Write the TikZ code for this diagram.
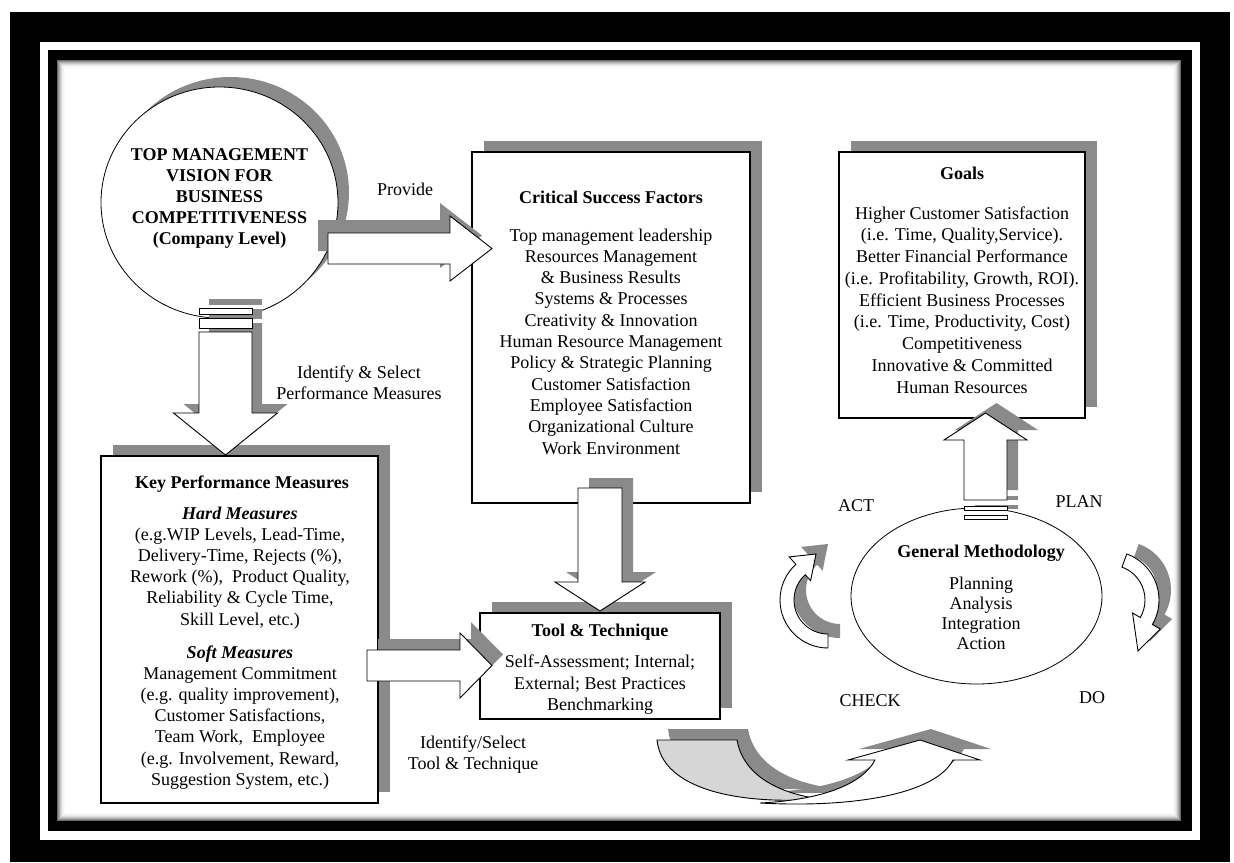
\documentclass[tikz,border=0pt]{standalone}
\usepackage{fontspec}
\setmainfont{Liberation Serif}
\usetikzlibrary{shapes.geometric}
\definecolor{shade}{RGB}{138,138,138}
\definecolor{backband}{RGB}{214,214,214}
% right-pointing block arrow: style, tail x, head-base x, tip x, centre y
\newcommand\rightblock[5]{%
  \path[#1] (#2,#5-15.5) -- (#3,#5-15.5) -- (#3,#5-32.5) -- (#4,#5)
    -- (#3,#5+32.5) -- (#3,#5+15.5) -- (#2,#5+15.5) -- cycle;}
\begin{document}
\begin{tikzpicture}[x=1pt, y=-1pt,
  every node/.style={inner sep=0pt, outer sep=0pt},
  txt/.style={align=center, anchor=north, font=\fontsize{18}{#1}\selectfont},
  txt/.default=21.3,
  txtb/.style={align=center, anchor=north, font=\fontsize{18}{#1}\selectfont\bfseries},
  txtb/.default=21.3,
  lbl/.style={anchor=base, font=\fontsize{18}{21.3}\selectfont},
  hd/.style={anchor=base, font=\fontsize{18}{21.3}\selectfont\bfseries},
  shadowfill/.style={fill=shade, draw=none},
  boxstyle/.style={draw=black, fill=white, line width=1.6pt, anchor=north west},
  roundstyle/.style={draw=black, fill=white, ellipse, line width=0.8pt},
  blockfill/.style={draw=black, fill=white, line width=0.9pt, line join=miter},
  backfill/.style={draw=black, fill=backband, line width=0.9pt},
]
\useasboundingbox (0,0) rectangle (1234,862);

% ---------- frame ----------
\fill[white] (0,0) rectangle (1234,862);
\fill[black] (10,12) rectangle (1230,862);
\fill[white] (40,42) rectangle (1200,840);
\fill[black] (48,50) rectangle (1192,831);
\fill[white] (57,60) rectangle (1181,821);
\foreach \k [count=\i] in {58,44,32,22,14,8,4,2}
  \draw[black!\k, line width=1pt] (56.5+\i,59.5+\i) rectangle (1181.5-\i,821.5-\i);

% ---------- shadows of boxes and circle ----------
\fill[shadowfill] (230.5,192.5) ellipse [x radius=118.5, y radius=115.5];
\fill[shadowfill] (484,141) rectangle (762,492);
\fill[shadowfill] (851,141) rectangle (1097,407);
\fill[shadowfill] (113,445) rectangle (390,792);
\fill[shadowfill] (492,602) rectangle (732,708);

% ---------- boxes ----------
\node[roundstyle, minimum width=237pt, minimum height=231pt] (vision) at (219.5,202.5) {};
\node[boxstyle, minimum width=278pt, minimum height=351pt] (csf) at (472,152) {};
\node[boxstyle, minimum width=246pt, minimum height=266pt] (goals) at (839,152) {};
\node[boxstyle, minimum width=277pt, minimum height=347pt] (kpm) at (101,456) {};
\node[boxstyle, minimum width=240pt, minimum height=106pt] (tool) at (480,613) {};
\node[roundstyle, minimum width=251pt, minimum height=176pt] (method) at (976.5,596) {};

% ---------- block arrows ----------
% vision -> critical success factors
\rightblock{shadowfill, shift={(-10,-13)}}{328}{450}{492}{248.5}
\rightblock{blockfill}{328}{450}{492}{248.5}
% key performance measures -> tool & technique
\rightblock{shadowfill, shift={(11,-11)}}{367}{460}{492}{665.5}
\rightblock{blockfill}{367}{460}{492}{665.5}
% critical success factors -> tool & technique
\path[shadowfill, shift={(11,-10)}] (578,488) -- (622,488) -- (622,582) -- (645,582)
  -- (600,611) -- (555,582) -- (578,582) -- cycle;
\path[blockfill] (578,488) -- (622,488) -- (622,582) -- (645,582)
  -- (600,611) -- (555,582) -- (578,582) -- cycle;
% vision -> key performance measures (striped)
\begin{scope}[shift={(10,-9)}]
  \path[shadowfill] (199,332) -- (252,332) -- (252,413) -- (277.5,413)
    -- (225.5,455) -- (173.5,413) -- (199,413) -- cycle;
  \path[shadowfill] (199,308) rectangle (252,314);
  \path[shadowfill] (199,318) rectangle (252,328);
\end{scope}
\path[blockfill] (199,332) -- (252,332) -- (252,413) -- (277.5,413)
  -- (225.5,455) -- (173.5,413) -- (199,413) -- cycle;
\path[blockfill] (199,308) rectangle (252,314);
\path[blockfill] (199,318) rectangle (252,328);
% general methodology -> goals (striped)
\begin{scope}[shift={(11,-10)}]
  \path[shadowfill] (964,500) -- (964,440) -- (944,440) -- (985.5,413)
    -- (1027,440) -- (1007,440) -- (1007,500) -- cycle;
  \path[shadowfill] (964,506) rectangle (1007,510);
  \path[shadowfill] (964,515) rectangle (1007,519);
\end{scope}
\path[blockfill] (964,500) -- (964,440) -- (944,440) -- (985.5,413)
  -- (1027,440) -- (1007,440) -- (1007,500) -- cycle;
\path[blockfill] (964,506) rectangle (1007,510);
\path[blockfill] (964,515) rectangle (1007,519);

% ---------- turning arrows round the cycle ----------
\path[shadowfill, shift={(12,-10)}] ([shift={(828,600)}]90:48)
  arc[start angle=90, end angle=228, radius=48] -- ([shift={(828,600)}]228:58)
  -- (816,554) -- ([shift={(828,600)}]228:26) -- ([shift={(828,600)}]228:34)
  arc[start angle=228, end angle=90, radius=34] -- cycle;
\path[blockfill] ([shift={(828,600)}]90:48)
  arc[start angle=90, end angle=228, radius=48] -- ([shift={(828,600)}]228:58)
  -- (816,554) -- ([shift={(828,600)}]228:26) -- ([shift={(828,600)}]228:34)
  arc[start angle=228, end angle=90, radius=34] -- cycle;
\path[shadowfill, shift={(12,-10)}] ([shift={(1110,600)}]-70:49)
  arc[start angle=-70, end angle=30, radius=49] -- ([shift={(1110,600)}]30:58)
  -- (1138,651) -- ([shift={(1110,600)}]30:26) -- ([shift={(1110,600)}]30:35)
  arc[start angle=30, end angle=-70, radius=35] -- cycle;
\path[blockfill] ([shift={(1110,600)}]-70:49)
  arc[start angle=-70, end angle=30, radius=49] -- ([shift={(1110,600)}]30:58)
  -- (1138,651) -- ([shift={(1110,600)}]30:26) -- ([shift={(1110,600)}]30:35)
  arc[start angle=30, end angle=-70, radius=35] -- cycle;

% curved up arrow under the cycle
\begin{scope}[shift={(11,-11)}]
  \path[shadowfill] (657,740) -- (737,740) .. controls (742,770) and (770,792) .. (820,799)
    .. controls (740,805) and (662,790) .. (657,740) -- cycle;
  \path[shadowfill] (760,803) .. controls (850,808) and (935,795) .. (953,760) -- (980,760)
    -- (920,740) -- (848,760) -- (875,760) .. controls (862,785) and (820,800) .. (760,803) -- cycle;
\end{scope}
\path[backfill] (657,740) -- (737,740) .. controls (742,770) and (770,792) .. (820,799)
  .. controls (740,805) and (662,790) .. (657,740) -- cycle;
\path[blockfill] (760,803) .. controls (850,808) and (935,795) .. (953,760) -- (980,760)
  -- (920,740) -- (848,760) -- (875,760) .. controls (862,785) and (820,800) .. (760,803) -- cycle;

% ---------- texts ----------
\node[txtb=21] (visiontext) at (219.5,145.3)
  {\strut TOP MANAGEMENT\\VISION FOR\\BUSINESS\\COMPETITIVENESS\\(Company Level)};
\node[lbl] (provide) at (405,195) {Provide};
\node[hd] (csftitle) at (611,203) {Critical Success Factors};
\node[txt] (csflist) at (611,226.1)
  {\strut Top management leadership\\Resources Management\\\& Business Results\\
   Systems \& Processes\\Creativity \& Innovation\\Human Resource Management\\
   Policy \& Strategic Planning\\Customer Satisfaction\\Employee Satisfaction\\
   Organizational Culture\\Work Environment};
\node[hd] (goalstitle) at (962,179) {Goals};
\node[txt=21.75] (goalslist) at (962,203.8)
  {\strut Higher Customer Satisfaction\\(i.e. Time, Quality,Service).\\
   Better Financial Performance\\(i.e. Profitability, Growth, ROI).\\
   Efficient Business Processes\\(i.e. Time, Productivity, Cost)\\
   Competitiveness\\Innovative \& Committed\\Human Resources};
\node[hd] (kpmtitle) at (242,488) {Key Performance Measures};
\node[txt=21.2] (hard) at (240,504.2)
  {\strut\textbf{\textit{Hard Measures}}\\(e.g.WIP Levels, Lead-Time,\\
   Delivery-Time, Rejects (\%),\\Rework (\%), \ Product Quality,\\
   Reliability \& Cycle Time,\\Skill Level, etc.)};
\node[txt=21.2] (soft) at (240,643.2)
  {\strut\textbf{\textit{Soft Measures}}\\Management Commitment\\
   (e.g. quality improvement),\\Customer Satisfactions,\\Team Work, \ Employee\\
   (e.g. Involvement, Reward,\\Suggestion System, etc.)};
\node[hd] (tooltitle) at (600,636) {Tool \& Technique};
\node[txt=21.5] (toollist) at (600,652.9)
  {\strut Self-Assessment; Internal;\\External; Best Practices\\Benchmarking};
\node[txt=21] (selectpm) at (359,363.3) {\strut Identify \& Select\\Performance Measures};
\node[txt=21] (selecttt) at (473,733.3) {\strut Identify/Select\\Tool \& Technique};
\node[hd] (gmtitle) at (981,557) {General Methodology};
\node[txt=20] (gmlist) at (981,575) {\strut Planning\\Analysis\\Integration\\Action};
\node[lbl] (act) at (856,511) {ACT};
\node[lbl] (plan) at (1079,507) {PLAN};
\node[lbl] (check) at (870,706) {CHECK};
\node[lbl] (do) at (1092,703) {DO};
\end{tikzpicture}
\end{document}
